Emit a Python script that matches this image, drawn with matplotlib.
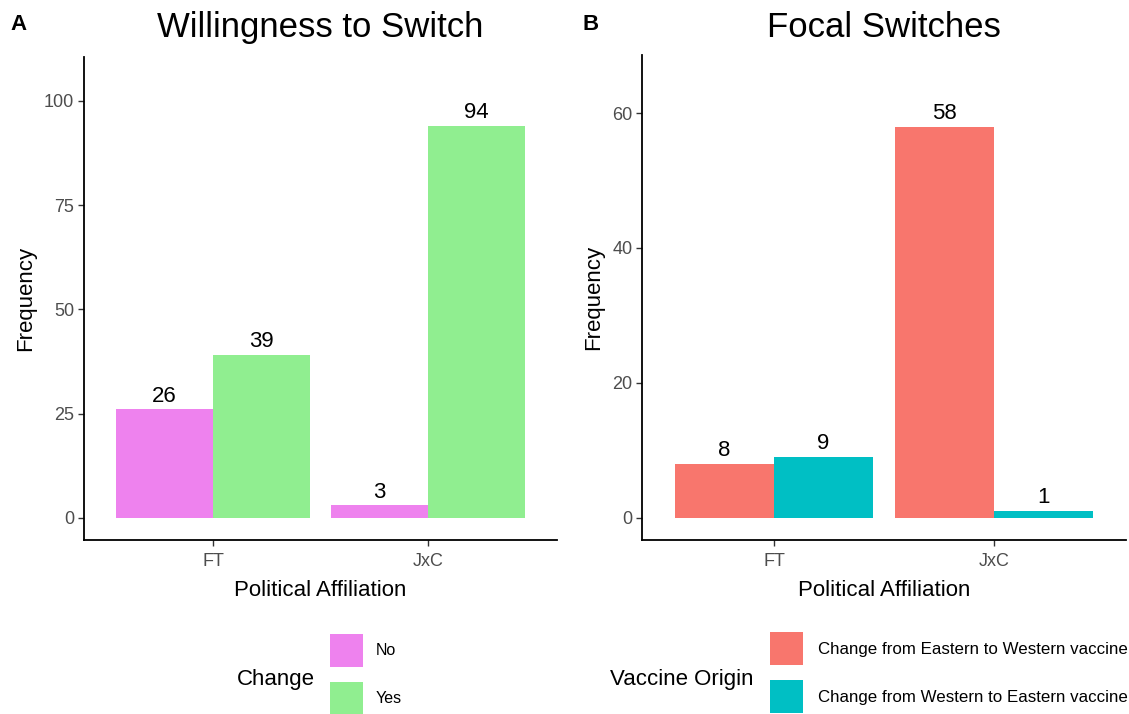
import matplotlib
matplotlib.use("Agg")
import matplotlib.pyplot as plt
import numpy as np

plt.rcParams['font.family'] = ['Liberation Sans', 'DejaVu Sans']

parties = ['FT', 'JxC']
change_no = [26, 3]
change_yes = [39, 94]
east_to_west = [8, 58]
west_to_east = [9, 1]

W, H = 1129, 714
fig = plt.figure(figsize=(W / 100, H / 100), dpi=100)


def fx(px):
    return px / W


def fy(py):
    return 1 - py / H


axA = fig.add_axes([fx(84), fy(540), fx(557) - fx(84), fy(57) - fy(540)])
axB = fig.add_axes([fx(642), fy(540), fx(1126) - fx(642), fy(55) - fy(540)])

x = np.arange(1, len(parties) + 1)
w = 0.45


def style(ax, ylim, yticks):
    ax.set_xlim(0.4, 2.6)
    ax.set_ylim(*ylim)
    ax.set_yticks(yticks)
    ax.set_xticks(x)
    ax.set_xticklabels(parties)
    for s in ['top', 'right']:
        ax.spines[s].set_visible(False)
    for s in ['left', 'bottom']:
        ax.spines[s].set_linewidth(1.3)
        ax.spines[s].set_color('black')
    ax.tick_params(length=4, width=1, color='#333333', labelcolor='#4D4D4D',
                   labelsize=13, pad=3)
    ax.tick_params(axis='x', pad=5.5)
    ax.set_xlabel('Political Affiliation', fontsize=16, labelpad=7)
    ax.set_ylabel('Frequency', fontsize=16, labelpad=6)


def labels(ax, bars, vals):
    for b, v in zip(bars, vals):
        ax.annotate(str(v), (b.get_x() + b.get_width() / 2, b.get_height()),
                    xytext=(0, 2), textcoords='offset points',
                    ha='center', va='bottom', fontsize=16)


# Panel A
bA1 = axA.bar(x - w / 2, change_no, w, color='#EE82EE', label='No')
bA2 = axA.bar(x + w / 2, change_yes, w, color='#90EE90', label='Yes')
labels(axA, bA1, change_no)
labels(axA, bA2, change_yes)
style(axA, (-5.3, 110.5), [0, 25, 50, 75, 100])

# Panel B
bB1 = axB.bar(x - w / 2, east_to_west, w, color='#F8766D',
              label='Change from Eastern to Western vaccine')
bB2 = axB.bar(x + w / 2, west_to_east, w, color='#00BFC4',
              label='Change from Western to Eastern vaccine')
labels(axB, bB1, east_to_west)
labels(axB, bB2, west_to_east)
style(axB, (-3.3, 68.6), [0, 20, 40, 60])

# titles and panel tags
fig.text(fx(320), fy(37), 'Willingness to Switch', fontsize=25, ha='center', va='baseline')
fig.text(fx(884), fy(37), 'Focal Switches', fontsize=25, ha='center', va='baseline')
fig.text(fx(10), fy(25), 'A', fontsize=16, fontweight='bold', ha='left', va='center')
fig.text(fx(583), fy(25), 'B', fontsize=16, fontweight='bold', ha='left', va='center')

# legends
legA = fig.legend(handles=[bA1, bA2], loc='upper left',
                  bbox_to_anchor=(fx(330), fy(634)), frameon=False,
                  borderpad=0, borderaxespad=0, fontsize=11.5,
                  handlelength=2.07, handleheight=2.8, handletextpad=0.8,
                  labelspacing=0.94)
fig.text(fx(237), fy(679), 'Change', fontsize=16, ha='left', va='center')

legB = fig.legend(handles=[bB1, bB2], loc='upper left',
                  bbox_to_anchor=(fx(770), fy(632)), frameon=False,
                  borderpad=0, borderaxespad=0, fontsize=12.2,
                  handlelength=1.95, handleheight=2.62, handletextpad=0.9,
                  labelspacing=0.89)
fig.text(fx(610), fy(680), 'Vaccine Origin', fontsize=16, ha='left', va='center')

fig.savefig('out.png', dpi=100)
